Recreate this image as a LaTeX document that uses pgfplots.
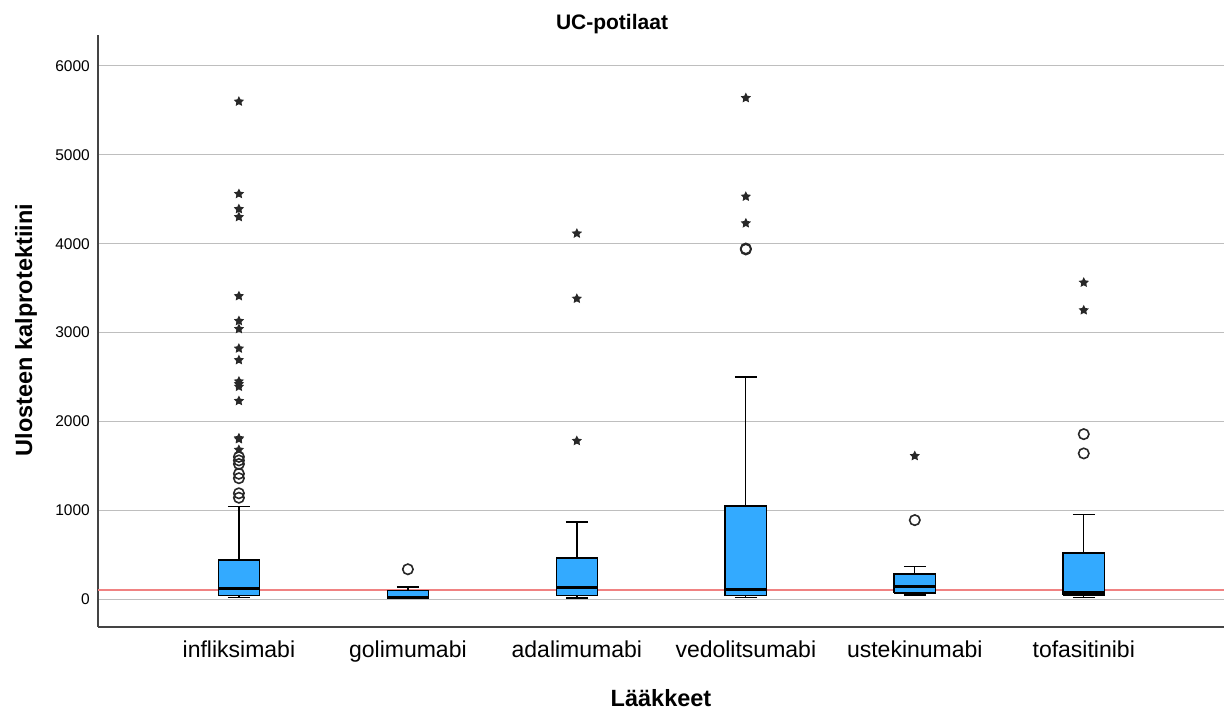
\documentclass[border=0pt]{standalone}
\usepackage{pgfplots}
\pgfplotsset{compat=1.18}
\usepackage{fontspec}
\setmainfont{Liberation Sans}
\definecolor{boxblue}{RGB}{51,170,255}
\definecolor{gridgray}{RGB}{190,190,190}
\definecolor{axisgray}{RGB}{68,68,68}
\definecolor{refred}{RGB}{240,130,130}
\definecolor{markgray}{RGB}{40,40,40}
\pgfdeclareplotmark{fstar}{%
  \pgfpathmoveto{\pgfqpoint{0pt}{\pgfplotmarksize}}%
  \pgfpathlineto{\pgfqpoint{-0.294\pgfplotmarksize}{0.4045\pgfplotmarksize}}%
  \pgfpathlineto{\pgfqpoint{-0.951\pgfplotmarksize}{0.309\pgfplotmarksize}}%
  \pgfpathlineto{\pgfqpoint{-0.4755\pgfplotmarksize}{-0.1545\pgfplotmarksize}}%
  \pgfpathlineto{\pgfqpoint{-0.588\pgfplotmarksize}{-0.809\pgfplotmarksize}}%
  \pgfpathlineto{\pgfqpoint{0pt}{-0.5\pgfplotmarksize}}%
  \pgfpathlineto{\pgfqpoint{0.588\pgfplotmarksize}{-0.809\pgfplotmarksize}}%
  \pgfpathlineto{\pgfqpoint{0.4755\pgfplotmarksize}{-0.1545\pgfplotmarksize}}%
  \pgfpathlineto{\pgfqpoint{0.951\pgfplotmarksize}{0.309\pgfplotmarksize}}%
  \pgfpathlineto{\pgfqpoint{0.294\pgfplotmarksize}{0.4045\pgfplotmarksize}}%
  \pgfpathclose
  \pgfusepathqfill}
% position, lower whisker, Q1, median, Q3, upper whisker
\newcommand{\bx}[6]{%
  \pgfmathsetmacro{\Lx}{#1-0.1225}\pgfmathsetmacro{\Rx}{#1+0.1225}%
  \pgfmathsetmacro{\cL}{#1-0.065}\pgfmathsetmacro{\cR}{#1+0.065}%
  \addplot[black, line width=1.3bp] coordinates {(#1,#2) (#1,#3)};
  \addplot[black, line width=1.3bp] coordinates {(#1,#5) (#1,#6)};
  \addplot[black, line width=1.3bp] coordinates {(\cL,#2) (\cR,#2)};
  \addplot[black, line width=1.3bp] coordinates {(\cL,#6) (\cR,#6)};
  \addplot[fill=boxblue, draw=black, line width=1.3bp, line join=miter]
     coordinates {(\Lx,#3) (\Rx,#3) (\Rx,#5) (\Lx,#5) (\Lx,#3)};
  \addplot[black, line width=3bp] coordinates {(\Lx,#4) (\Rx,#4)};
}
\begin{document}
\begin{tikzpicture}
\path[use as bounding box] (0bp,0bp) rectangle (1224bp,711bp);
\begin{axis}[
  at={(98bp,84bp)}, anchor=south west, scale only axis,
  width=1126bp, height=592bp,
  xmin=-0.834, xmax=5.83, ymin=-315, ymax=6349,
  axis x line*=bottom, axis y line*=left,
  axis line style={-, draw=axisgray, line width=1.5bp},
  tick style={draw=none},
  xtick={0,1,2,3,4,5},
  xticklabels={infliksimabi, golimumabi, adalimumabi, vedolitsumabi, ustekinumabi, tofasitinibi},
  ytick={0,1000,...,6000},
  ymajorgrids, major grid style={draw=gridgray, line width=1bp},
  scaled y ticks=false,
  yticklabel style={font=\fontsize{15.5bp}{18bp}\selectfont, anchor=east, inner sep=0pt, xshift=-8bp,
    /pgf/number format/assume math mode=true, /pgf/number format/set thousands separator={}},
  xticklabel style={font=\fontsize{23bp}{26bp}\selectfont, anchor=base, yshift=-31bp},
  clip=false,
]
\addplot[refred, line width=1.3bp] coordinates {(-0.834,100) (5.83,100)};
\bx{0}{19}{39}{116}{438}{1039}
\bx{1}{3}{12}{22}{98}{135}
\bx{2}{11}{41}{128}{463}{866}
\bx{3}{19}{39}{109}{1047}{2500}
\bx{4}{45}{67}{139}{281}{367}
\bx{5}{19}{45}{75}{517}{949}
% extreme outliers (stars)
\addplot[only marks, mark=fstar, mark size=5.4bp, color=markgray] coordinates {
 (0,5600) (0,4560) (0,4390) (0,4300) (0,3410) (0,3130) (0,3040) (0,2820) (0,2690)
 (0,2450) (0,2420) (0,2390) (0,2230) (0,1810) (0,1800) (0,1680)
 (2,4115) (2,3381) (2,1780)
 (3,5640) (3,4530) (3,4230)
 (4,1610)
 (5,3562) (5,3251)
};
% outliers (circles)
\addplot[only marks, mark=o, mark size=5.2bp, color=markgray, mark options={line width=1.6bp}] coordinates {
 (0,1600) (0,1560) (0,1520) (0,1410) (0,1360) (0,1190) (0,1140)
 (1,335)
 (3,3935) (3,3945)
 (4,888)
 (5,1856) (5,1639)
};
\end{axis}
\node[anchor=base, font=\bfseries\fontsize{21bp}{25bp}\selectfont] at (612bp,681bp) {UC-potilaat};
\node[anchor=base, font=\bfseries\fontsize{23.5bp}{28bp}\selectfont] at (661bp,5bp) {Lääkkeet};
\node[anchor=base, rotate=90, font=\bfseries\fontsize{23.5bp}{28bp}\selectfont] at (32bp,381bp) {Ulosteen kalprotektiini};
\end{tikzpicture}
\end{document}
